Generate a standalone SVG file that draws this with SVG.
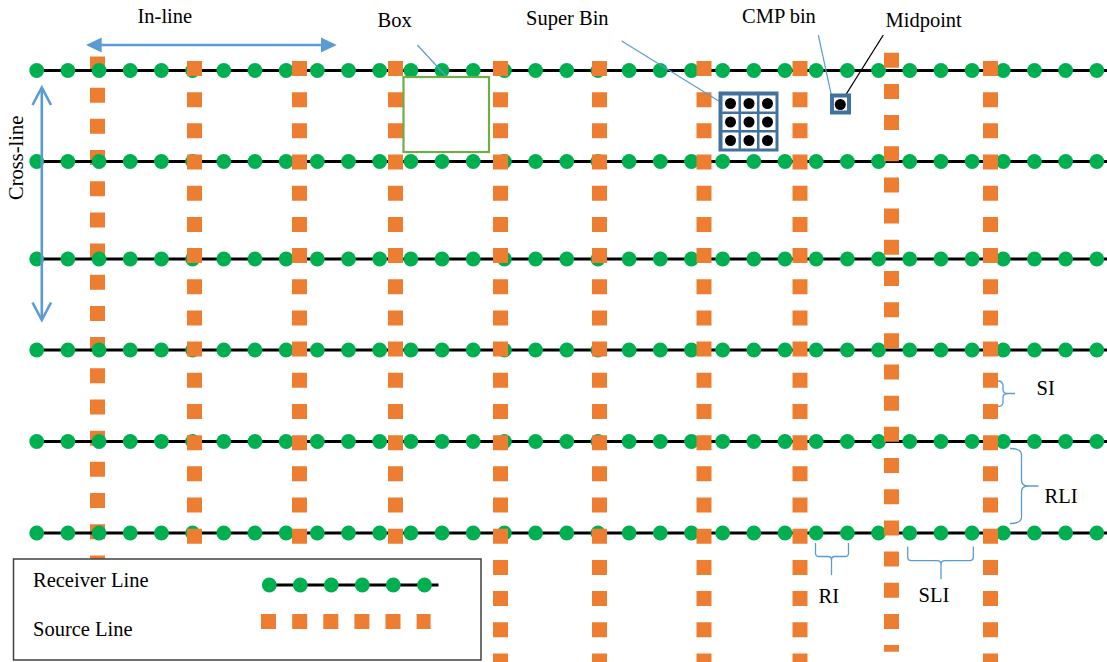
<svg xmlns="http://www.w3.org/2000/svg" xmlns:xlink="http://www.w3.org/1999/xlink" width="1107" height="662" viewBox="0 0 1107 662">
  <style>
    .lbl { font-family: "Liberation Serif", "Times New Roman", serif; font-size: 20.5px; fill: #000; }
    .rline { stroke: #000; stroke-width: 3; }
    .rec { fill: #00B050; }
    .src { stroke: #ED7D31; stroke-width: 15; stroke-dasharray: 15 16.18; fill: none; }
    .lead { stroke: #5B9BD5; stroke-width: 1.2; fill: none; }
    .brace { stroke: #5B9BD5; stroke-width: 1.3; fill: none; }
    .arrow { stroke: #5B9BD5; stroke-width: 2.6; fill: none; }
    .bin { fill: #41719C; }
  </style>
  <defs>
    <g id="rrow">
      <line class="rline" x1="37" y1="0" x2="1107" y2="0"/>
      <g class="rec">
        <circle cx="36.7" cy="0" r="7.4"/><circle cx="67.88" cy="0" r="7.4"/><circle cx="99.06" cy="0" r="7.4"/>
        <circle cx="130.24" cy="0" r="7.4"/><circle cx="161.42" cy="0" r="7.4"/><circle cx="192.6" cy="0" r="7.4"/>
        <circle cx="223.78" cy="0" r="7.4"/><circle cx="254.96" cy="0" r="7.4"/><circle cx="286.14" cy="0" r="7.4"/>
        <circle cx="317.32" cy="0" r="7.4"/><circle cx="348.5" cy="0" r="7.4"/><circle cx="379.68" cy="0" r="7.4"/>
        <circle cx="410.86" cy="0" r="7.4"/><circle cx="442.04" cy="0" r="7.4"/><circle cx="473.22" cy="0" r="7.4"/>
        <circle cx="504.4" cy="0" r="7.4"/><circle cx="535.58" cy="0" r="7.4"/><circle cx="566.76" cy="0" r="7.4"/>
        <circle cx="597.94" cy="0" r="7.4"/><circle cx="629.12" cy="0" r="7.4"/><circle cx="660.3" cy="0" r="7.4"/>
        <circle cx="691.48" cy="0" r="7.4"/><circle cx="722.66" cy="0" r="7.4"/><circle cx="753.84" cy="0" r="7.4"/>
        <circle cx="785.02" cy="0" r="7.4"/><circle cx="816.2" cy="0" r="7.4"/><circle cx="847.38" cy="0" r="7.4"/>
        <circle cx="878.56" cy="0" r="7.4"/><circle cx="909.74" cy="0" r="7.4"/><circle cx="940.92" cy="0" r="7.4"/>
        <circle cx="972.1" cy="0" r="7.4"/><circle cx="1003.28" cy="0" r="7.4"/><circle cx="1034.46" cy="0" r="7.4"/>
        <circle cx="1065.64" cy="0" r="7.4"/><circle cx="1096.82" cy="0" r="7.4"/>
      </g>
    </g>
  </defs>

  <!-- source line 1 (drawn beneath receivers) -->
  <g id="source-line-1"><line class="src" x1="97.5" y1="56.5" x2="97.5" y2="559"/></g>

  <!-- receiver lines -->
  <g id="receiver-lines">
    <use id="receiver-line-1" xlink:href="#rrow" href="#rrow" transform="translate(0,70.5)"/>
    <use id="receiver-line-2" xlink:href="#rrow" href="#rrow" transform="translate(0,161.5)"/>
    <use id="receiver-line-3" xlink:href="#rrow" href="#rrow" transform="translate(0,259)"/>
    <use id="receiver-line-4" xlink:href="#rrow" href="#rrow" transform="translate(0,350)"/>
    <use id="receiver-line-5" xlink:href="#rrow" href="#rrow" transform="translate(0,441.5)"/>
    <use id="receiver-line-6" xlink:href="#rrow" href="#rrow" transform="translate(0,533)"/>
  </g>

  <!-- source lines -->
  <g id="source-lines">
    <line id="source-line-2" class="src" x1="194.5" y1="61" x2="194.5" y2="559"/>
    <line id="source-line-3" class="src" x1="299.5" y1="61" x2="299.5" y2="559"/>
    <line id="source-line-4" class="src" x1="395.5" y1="61" x2="395.5" y2="559"/>
    <line id="source-line-5" class="src" x1="500.5" y1="61" x2="500.5" y2="662"/>
    <line id="source-line-6" class="src" x1="599.5" y1="61" x2="599.5" y2="662"/>
    <line id="source-line-7" class="src" x1="704" y1="61" x2="704" y2="662"/>
    <line id="source-line-8" class="src" x1="800" y1="61" x2="800" y2="662"/>
    <line id="source-line-9" class="src" x1="891.5" y1="52.7" x2="891.5" y2="651.7"/>
    <line id="source-line-10" class="src" x1="990.5" y1="61" x2="990.5" y2="662"/>
  </g>

  <!-- connectors / leaders / braces -->
  <g id="connectors">
    <line class="lead" x1="417.3" y1="45" x2="446" y2="76"/>
    <line class="lead" x1="621.7" y1="41" x2="720" y2="101.7"/>
    <line class="lead" x1="818.3" y1="35" x2="831.7" y2="96.7"/>
    <line stroke="#000" stroke-width="1.3" x1="883.3" y1="35" x2="840" y2="104"/>
    <!-- In-line double arrow -->
    <line class="arrow" x1="100" y1="45" x2="323" y2="45"/>
    <polygon fill="#5B9BD5" points="86,45 101.7,37.5 101.7,52.5"/>
    <polygon fill="#5B9BD5" points="336.7,45 321,37.5 321,52.5"/>
    <!-- Cross-line double arrow (open heads) -->
    <line class="arrow" stroke-width="2.3" x1="41.8" y1="88" x2="41.8" y2="319"/>
    <polyline class="arrow" stroke-width="2.3" points="32.5,105 41.8,87.5 51,105"/>
    <polyline class="arrow" stroke-width="2.3" points="32.5,302.5 41.8,320 51,302.5"/>
    <!-- SI brace -->
    <path class="brace" d="M998,381 Q1003,381 1003,386 L1003,389.5 Q1003,393.5 1008,393.5 L1015,393.5 M1008,393.5 Q1003,393.5 1003,397.5 L1003,402 Q1003,406.5 998,406.5"/>
    <!-- RLI brace -->
    <path class="brace" d="M1010,448.5 Q1021.5,448.5 1021.5,455 L1021.5,480 Q1021.5,486 1028,486 L1038.5,486 M1028,486 Q1021.5,486 1021.5,492 L1021.5,517 Q1021.5,523.5 1010,523.5"/>
    <!-- RI brace -->
    <path class="brace" d="M815.5,543 L815.5,553 Q815.5,556.5 819,556.5 L828,556.5 Q831.5,556.5 831.5,560 L831.5,575 M831.5,560 Q831.5,556.5 835,556.5 L845,556.5 Q848.5,556.5 848.5,553 L848.5,543"/>
    <!-- SLI brace -->
    <path class="brace" d="M907.7,546.5 L907.7,557 Q907.7,560.7 911.5,560.7 L937,560.7 Q941,560.7 941,564.5 L941,579.3 M941,564.5 Q941,560.7 945,560.7 L969.5,560.7 Q973.3,560.7 973.3,557 L973.3,546.5"/>
  </g>

  <!-- Box -->
  <g id="box">
    <rect x="403.5" y="77" width="85.5" height="75" fill="none" stroke="#70AD47" stroke-width="2.2"/>
  </g>

  <!-- Super bin -->
  <g id="super-bin">
    <rect class="bin" x="718.5" y="91.5" width="60" height="60"/>
    <g fill="#fff">
      <rect x="722.5" y="95.5" width="16" height="16"/><rect x="741" y="95.5" width="16" height="16"/><rect x="759.5" y="95.5" width="16" height="16"/>
      <rect x="722.5" y="114" width="16" height="16"/><rect x="741" y="114" width="16" height="16"/><rect x="759.5" y="114" width="16" height="16"/>
      <rect x="722.5" y="132.5" width="16" height="16"/><rect x="741" y="132.5" width="16" height="16"/><rect x="759.5" y="132.5" width="16" height="16"/>
    </g>
    <g fill="#000">
      <circle cx="730.5" cy="103.5" r="5.5"/><circle cx="749" cy="103.5" r="5.5"/><circle cx="767.5" cy="103.5" r="5.5"/>
      <circle cx="730.5" cy="122" r="5.5"/><circle cx="749" cy="122" r="5.5"/><circle cx="767.5" cy="122" r="5.5"/>
      <circle cx="730.5" cy="140.5" r="5.5"/><circle cx="749" cy="140.5" r="5.5"/><circle cx="767.5" cy="140.5" r="5.5"/>
    </g>
  </g>

  <!-- CMP bin -->
  <g id="cmp-bin">
    <rect x="832" y="95.5" width="17" height="17" fill="#fff" stroke="#41719C" stroke-width="4"/>
    <circle cx="840.3" cy="104.5" r="5.5" fill="#000"/>
  </g>

  <!-- Labels -->
  <g id="labels">
    <text class="lbl" x="137.5" y="23">In-line</text>
    <text class="lbl" transform="translate(23,200) rotate(-90)">Cross-line</text>
    <text class="lbl" x="377.5" y="27">Box</text>
    <text class="lbl" x="526" y="25">Super Bin</text>
    <text class="lbl" x="742" y="23">CMP bin</text>
    <text class="lbl" x="885.5" y="26.5">Midpoint</text>
    <text class="lbl" x="1036.5" y="395">SI</text>
    <text class="lbl" x="1044.5" y="502.5">RLI</text>
    <text class="lbl" x="818.5" y="603">RI</text>
    <text class="lbl" x="918.5" y="602">SLI</text>
  </g>

  <!-- Legend -->
  <g id="legend">
    <rect x="13.5" y="559" width="467.5" height="101" fill="#fff" stroke="#404040" stroke-width="1.5"/>
    <text class="lbl" x="33" y="586.5">Receiver Line</text>
    <text class="lbl" x="33" y="635.5">Source Line</text>
    <line class="rline" x1="269" y1="585" x2="438.5" y2="585"/>
    <g class="rec">
      <circle cx="269.3" cy="585" r="7.4"/><circle cx="300.3" cy="585" r="7.4"/><circle cx="331.3" cy="585" r="7.4"/>
      <circle cx="362.3" cy="585" r="7.4"/><circle cx="393.3" cy="585" r="7.4"/><circle cx="424.5" cy="585" r="7.4"/>
    </g>
    <g fill="#ED7D31">
      <rect x="261" y="614" width="15" height="15"/><rect x="292.2" y="614" width="15" height="15"/>
      <rect x="323.3" y="614" width="15" height="15"/><rect x="354.4" y="614" width="15" height="15"/>
      <rect x="385.5" y="614" width="15" height="15"/><rect x="416.6" y="614" width="14" height="15"/>
    </g>
  </g>
</svg>
